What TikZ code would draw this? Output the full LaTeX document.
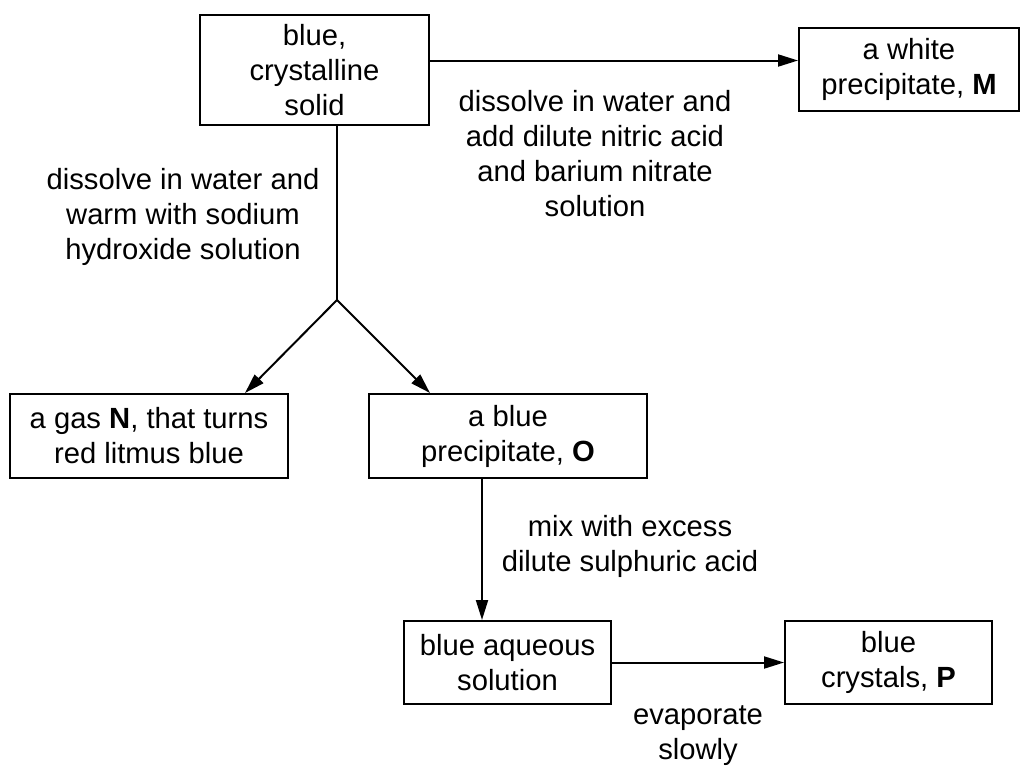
\documentclass[tikz,border=0pt]{standalone}
\usepackage{fontspec}
\setmainfont{Liberation Sans}
\usetikzlibrary{arrows.meta}

\tikzset{
	box/.style = {draw, line width=1pt, inner sep=0pt, align=center},
	lbl/.style = {align=center, inner sep=0pt},
	flow/.style = {line width=1pt, -{Triangle[length=10pt, width=6pt]}},
}

\begin{document}
\begin{tikzpicture}[x=0.5pt, y=-0.5pt, font=\fontsize{14.6}{17.5}\selectfont]
	\useasboundingbox (0,0) rectangle (1023,767);

	\node [box, minimum width=114.5pt, minimum height=55pt] (solid) at (314.5,70) {blue,\\crystalline\\solid};
	\node [box, minimum width=110pt, minimum height=41.5pt] (white) at (909,69.5) {a white\\precipitate, \textbf{M}};
	\node [box, minimum width=139pt, minimum height=42pt] (gas) at (149,436) {a gas \textbf{N}, that turns\\red litmus blue};
	\node [box, minimum width=139pt, minimum height=42pt] (blueO) at (508,436) {a blue\\precipitate, \textbf{O}};
	\node [box, minimum width=103.5pt, minimum height=41.5pt] (aqueous) at (507.5,662.5) {blue aqueous\\solution};
	\node [box, minimum width=103.5pt, minimum height=41.5pt] (crystals) at (888.5,662.5) {blue\\crystals, \textbf{P}};

	\node [lbl] (lab-nitrate) at (595,154) {dissolve in water and\\add dilute nitric acid\\and barium nitrate\\solution};
	\node [lbl] (lab-hydroxide) at (183,217) {dissolve in water and\\warm with sodium\\hydroxide solution};
	\node [lbl] (lab-acid) at (630,546.5) {mix with excess\\dilute sulphuric acid};
	\node [lbl] (lab-evap) at (698,736) {evaporate\\slowly};

	\coordinate (fork) at (337,300);
	\coordinate (m-in) at ([yshift=4.5pt]white.west);
	\coordinate (aq-in) at ([xshift=-12.75pt]aqueous.north);

	\draw [flow] (solid.east |- m-in) -- (m-in);
	\draw [line width=1pt] (fork |- solid.south) -- (fork);
	\draw [flow] (fork) -- ([xshift=48pt]gas.north);
	\draw [flow] (fork) -- ([xshift=-39pt]blueO.north);
	\draw [flow] (aq-in |- blueO.south) -- (aq-in);
	\draw [flow] (aqueous.east) -- (crystals.west);
\end{tikzpicture}
\end{document}
